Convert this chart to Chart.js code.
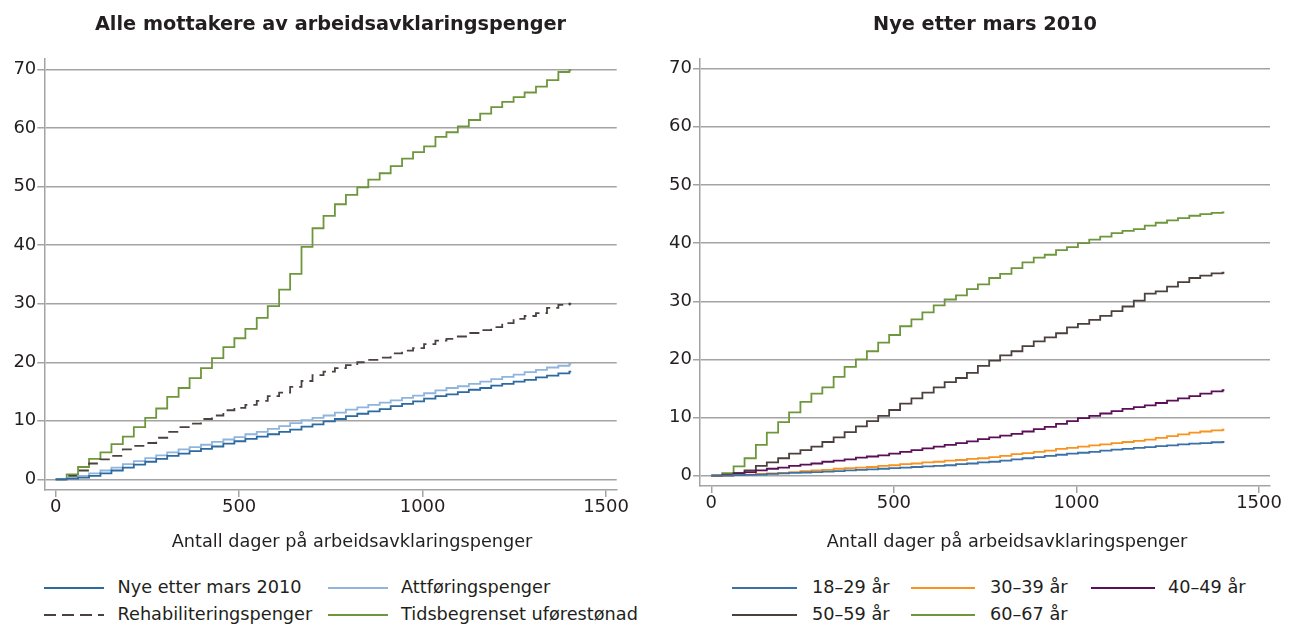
<!DOCTYPE html>
<html>
<head>
<meta charset="utf-8">
<script src="https://cdn.jsdelivr.net/npm/chart.js@4.4.1/dist/chart.umd.min.js"></script>
<style>
  body { margin: 0; background: #fff; width: 1297px; height: 626px; overflow: hidden; position: relative;
         font-family: 'DejaVu Sans', sans-serif; color: #231f20; }
  .boks { position: absolute; top: 0; height: 560px; }
  #venstre { left: 0; width: 648px; }
  #hoyre { left: 648px; width: 649px; }
  .aksetittel { position: absolute; top: 530px; font-size: 17.7px; line-height: 22px; white-space: nowrap; transform: translateX(-50%); }
  .leg { position: absolute; font-size: 17.7px; line-height: 22px; white-space: nowrap; }
  .strek { position: absolute; }
</style>
</head>
<body>
<div class="boks" id="venstre"><canvas id="graf1"></canvas></div>
<div class="boks" id="hoyre"><canvas id="graf2"></canvas></div>
<div class="aksetittel" style="left:352px">Antall dager på arbeidsavklaringspenger</div>
<div class="aksetittel" style="left:1007px">Antall dager på arbeidsavklaringspenger</div>
<div id="legender"></div>
<script>
// dager (jump days, one per month) + start and end
const dager = [0, 30, 61, 91, 122, 152, 183, 213, 244, 274, 304, 335, 365, 396, 426, 457, 487, 517, 548, 578,
  609, 639, 670, 700, 730, 761, 791, 822, 852, 883, 913, 944, 974, 1004, 1035, 1065, 1096, 1126, 1157, 1187,
  1217, 1248, 1278, 1309, 1339, 1370, 1400, 1405];

const xTicks = [0, 500, 1000, 1500];
const xTickTekst = ['0', '500', '1000', '1500'];
const yTicks = [0, 10, 20, 30, 40, 50, 60, 70];

// venstre figur
const nyeEtterMars = [0, 0.1, 0.3, 0.6, 1.0, 1.5, 2.0, 2.5, 3.0, 3.5, 4.0, 4.4, 4.8, 5.2, 5.6, 6.1, 6.5, 6.9, 7.3, 7.7,
  8.1, 8.5, 9.0, 9.4, 9.9, 10.3, 10.8, 11.2, 11.6, 12.0, 12.5, 12.9, 13.3, 13.8, 14.2, 14.5, 14.9, 15.3, 15.6,
  16.0, 16.3, 16.7, 17.0, 17.4, 17.7, 18.1, 18.4, 18.4];
const attforing = [0, 0.2, 0.6, 1.0, 1.5, 2.0, 2.6, 3.1, 3.6, 4.1, 4.6, 5.1, 5.5, 5.9, 6.4, 6.8, 7.2, 7.7, 8.1, 8.6,
  9.1, 9.6, 10.1, 10.5, 10.9, 11.4, 11.9, 12.3, 12.7, 13.1, 13.5, 13.9, 14.3, 14.7, 15.2, 15.6, 15.9, 16.3, 16.7,
  17.1, 17.5, 17.9, 18.3, 18.7, 19.1, 19.4, 19.7, 19.7];
const rehabilitering = [0, 0.6, 1.5, 2.7, 3.4, 4.0, 5.1, 5.7, 6.2, 7.1, 8.1, 8.9, 9.5, 10.3, 10.9, 11.8, 12.2, 12.7,
  13.4, 14.2, 14.8, 15.8, 16.8, 17.8, 18.4, 19.0, 19.5, 20.0, 20.4, 20.8, 21.5, 22.0, 22.4, 23.1, 23.7, 24.0, 24.4,
  25.0, 25.5, 26.0, 26.7, 27.4, 27.9, 28.4, 29.3, 29.8, 30.0, 30.0];
const tidsbegrenset = [0, 0.85, 2.1, 3.5, 4.6, 6.0, 7.3, 8.9, 10.5, 12.1, 14.1, 15.6, 17.3, 19.0, 20.7, 22.6, 24.1,
  25.7, 27.6, 29.6, 32.4, 35.1, 39.7, 42.9, 45.0, 47.0, 48.6, 49.9, 51.2, 52.3, 53.5, 54.8, 55.9, 56.9, 58.5, 59.3,
  60.3, 61.4, 62.5, 63.6, 64.5, 65.3, 66.1, 67.1, 68.2, 69.6, 69.9, 69.9];

// hoyre figur
const alder1829 = [0, 0.0, 0.1, 0.15, 0.2, 0.3, 0.4, 0.5, 0.55, 0.6, 0.7, 0.8, 0.9, 1.0, 1.1, 1.2, 1.3, 1.4, 1.5, 1.6,
  1.7, 1.8, 2.0, 2.1, 2.3, 2.4, 2.6, 2.8, 3.0, 3.2, 3.4, 3.6, 3.8, 3.95, 4.1, 4.3, 4.5, 4.6, 4.8, 4.9, 5.1, 5.2,
  5.4, 5.5, 5.6, 5.75, 5.8, 5.8];
const alder3039 = [0, 0.0, 0.1, 0.2, 0.3, 0.4, 0.5, 0.6, 0.8, 0.9, 1.0, 1.2, 1.3, 1.4, 1.5, 1.7, 1.8, 2.0, 2.1, 2.3,
  2.4, 2.6, 2.7, 2.9, 3.0, 3.2, 3.4, 3.7, 3.9, 4.1, 4.3, 4.6, 4.8, 5.0, 5.2, 5.4, 5.6, 5.8, 6.0, 6.2, 6.5, 6.8,
  7.1, 7.4, 7.6, 7.8, 7.9, 7.9];
const alder4049 = [0, 0.1, 0.3, 0.6, 0.9, 1.2, 1.4, 1.7, 1.9, 2.1, 2.4, 2.6, 2.8, 3.1, 3.3, 3.5, 3.8, 4.1, 4.4, 4.7,
  5.0, 5.3, 5.6, 5.9, 6.3, 6.6, 6.9, 7.2, 7.6, 8.0, 8.4, 8.9, 9.4, 9.9, 10.3, 10.7, 11.1, 11.5, 11.8, 12.1, 12.5,
  12.9, 13.3, 13.7, 14.1, 14.5, 14.7, 14.7];
const alder5059 = [0, 0.2, 0.5, 0.9, 1.7, 2.3, 3.0, 3.8, 4.4, 5.0, 5.8, 6.6, 7.5, 8.5, 9.4, 10.3, 11.3, 12.4, 13.3,
  14.3, 15.2, 16.1, 16.8, 17.7, 18.9, 19.8, 20.7, 21.4, 22.3, 23.1, 23.8, 24.5, 25.5, 26.1, 26.8, 27.5, 28.3, 29.1,
  30.1, 31.3, 31.7, 32.5, 33.3, 34.0, 34.4, 34.8, 34.9, 34.9];
const alder6067 = [0, 0.46, 1.6, 3.0, 5.3, 7.4, 9.2, 10.9, 12.7, 14.1, 15.2, 17.0, 18.7, 20.0, 21.4, 22.9, 24.2,
  25.7, 26.9, 28.1, 29.3, 30.3, 31.0, 32.1, 32.9, 34.0, 34.7, 35.7, 36.7, 37.5, 38.0, 38.8, 39.3, 40.0, 40.6, 41.1,
  41.7, 42.1, 42.4, 43.0, 43.5, 43.9, 44.3, 44.7, 45.0, 45.2, 45.3, 45.3];

const gridFarge = '#a3a3a3';
const tekstFarge = '#231f20';

function punkter(verdier) {
  return verdier.map((v, i) => ({ x: dager[i], y: v }));
}

function serie(navn, verdier, farge, strek) {
  return {
    label: navn,
    data: punkter(verdier),
    borderColor: farge,
    backgroundColor: farge,
    borderWidth: 1.8,
    borderDash: strek || [],
    stepped: 'before',
    pointRadius: 0,
    fill: false
  };
}

function lagFigur(canvasId, tittel, datasett, oppsett) {
  return new Chart(document.getElementById(canvasId), {
    type: 'line',
    data: { datasets: datasett },
    options: {
      responsive: true,
      maintainAspectRatio: false,
      animation: false,
      layout: { padding: { left: 0, right: oppsett.padHoyre, top: 0, bottom: 0 } },
      plugins: {
        legend: { display: false },
        tooltip: { enabled: false },
        title: {
          display: true,
          fullSize: false,
          text: tittel,
          color: tekstFarge,
          font: { family: "'DejaVu Sans', sans-serif", size: 19.3, weight: 'bold', lineHeight: 1.2 },
          padding: { top: 13.5, bottom: 21.7 }
        }
      },
      scales: {
        x: {
          type: 'linear',
          min: oppsett.xMin,
          max: oppsett.xMax,
          afterBuildTicks: s => { s.ticks = xTicks.map(v => ({ value: v })); },
          afterFit: s => { s.height = oppsett.xHoyde; },
          grid: { drawOnChartArea: false, drawTicks: true, tickLength: 7, color: gridFarge, lineWidth: 1.5 },
          border: { display: true, color: gridFarge, width: 1.5 },
          ticks: {
            color: tekstFarge, padding: 0, maxRotation: 0,
            font: { family: "'DejaVu Sans', sans-serif", size: 18 },
            callback: v => xTickTekst[xTicks.indexOf(v)]
          }
        },
        y: {
          min: oppsett.yMin,
          max: oppsett.yMax,
          afterBuildTicks: s => { s.ticks = yTicks.map(v => ({ value: v })); },
          afterFit: s => { s.width = oppsett.yBredde; },
          grid: { drawTicks: true, tickLength: 7, color: gridFarge, lineWidth: 1.5 },
          border: { display: true, color: gridFarge, width: 1.5 },
          ticks: { color: tekstFarge, padding: 1, font: { family: "'DejaVu Sans', sans-serif", size: 18 } }
        }
      }
    }
  });
}

const sett1 = [
  serie('Nye etter mars 2010', nyeEtterMars, '#2d6aa0'),
  serie('Attføringspenger', attforing, '#8fb4dd'),
  serie('Rehabiliteringspenger', rehabilitering, '#4b4240', [10, 6]),
  serie('Tidsbegrenset uførestønad', tidsbegrenset, '#6e963c')
];
const sett2 = [
  serie('18–29 år', alder1829, '#3b71a9'),
  serie('30–39 år', alder3039, '#f7931e'),
  serie('40–49 år', alder4049, '#5b0f57'),
  serie('50–59 år', alder5059, '#4b403c'),
  serie('60–67 år', alder6067, '#6e963c')
];

lagFigur('graf1', 'Alle mottakere av arbeidsavklaringspenger', sett1,
  { padHoyre: 31.3, yBredde: 44.3, xHoyde: 70, xMin: -31, xMax: 1529, yMin: -1.83, yMax: 71.93 });
lagFigur('graf2', 'Nye etter mars 2010', sett2,
  { padHoyre: 27, yBredde: 52, xHoyde: 74, xMin: -31, xMax: 1530, yMin: -1.77, yMax: 71.77 });

// legender (HTML), bygget fra datasettene
function lagLegende(datasett, kolonner, rader) {
  const holder = document.getElementById('legender');
  datasett.forEach((d, i) => {
    const k = kolonner[i % kolonner.length];
    const y = rader[Math.floor(i / kolonner.length)];
    const bredde = k.strekSlutt - k.strekStart;
    const svg = document.createElementNS('http://www.w3.org/2000/svg', 'svg');
    svg.setAttribute('class', 'strek');
    svg.setAttribute('width', bredde);
    svg.setAttribute('height', 4);
    svg.style.left = k.strekStart + 'px';
    svg.style.top = (y - 2) + 'px';
    const linje = document.createElementNS('http://www.w3.org/2000/svg', 'line');
    linje.setAttribute('x1', 0); linje.setAttribute('x2', bredde);
    linje.setAttribute('y1', 2); linje.setAttribute('y2', 2);
    linje.setAttribute('stroke', d.borderColor);
    linje.setAttribute('stroke-width', 1.8);
    if (d.borderDash.length) linje.setAttribute('stroke-dasharray', '12 6');
    svg.appendChild(linje);
    holder.appendChild(svg);
    const t = document.createElement('div');
    t.className = 'leg';
    t.textContent = d.label;
    t.style.left = k.tekst + 'px';
    t.style.top = (y - 12) + 'px';
    holder.appendChild(t);
  });
}

lagLegende(sett1, [
  { strekStart: 44, strekSlutt: 104, tekst: 117.5 },
  { strekStart: 328, strekSlutt: 388, tekst: 401 }
], [588, 615]);
lagLegende(sett2, [
  { strekStart: 732, strekSlutt: 797, tekst: 812 },
  { strekStart: 911, strekSlutt: 975, tekst: 990 },
  { strekStart: 1091, strekSlutt: 1155, tekst: 1168 }
], [588, 615]);
</script>
</body>
</html>
